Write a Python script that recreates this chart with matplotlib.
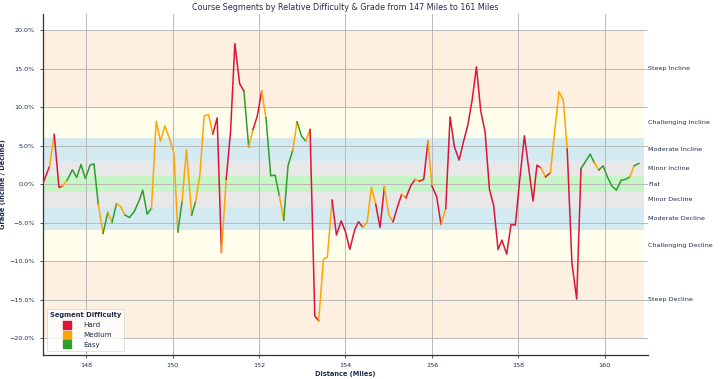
import matplotlib
matplotlib.use("Agg")
import matplotlib.pyplot as plt
from matplotlib.lines import Line2D
from matplotlib.ticker import PercentFormatter
import matplotlib.transforms as mtransforms

# course profile (mile, grade %), one difficulty per segment between points
miles = [147.00, 147.15, 147.26, 147.37, 147.45, 147.56, 147.68, 147.78, 147.88, 147.98,
         148.09, 148.18, 148.28, 148.39, 148.50, 148.60, 148.70, 148.79, 148.90, 149.00,
         149.11, 149.22, 149.31, 149.41, 149.51, 149.62, 149.72, 149.82, 149.93, 150.03,
         150.12, 150.22, 150.32, 150.44, 150.53, 150.63, 150.73, 150.83, 150.93, 151.03,
         151.13, 151.24, 151.34, 151.44, 151.55, 151.65, 151.76, 151.86, 151.96, 152.06,
         152.16, 152.27, 152.37, 152.47, 152.57, 152.67, 152.78, 152.88, 152.98, 153.08,
         153.18, 153.29, 153.38, 153.49, 153.58, 153.69, 153.79, 153.90, 154.00, 154.10,
         154.21, 154.30, 154.40, 154.50, 154.60, 154.70, 154.80, 154.90, 155.00, 155.10,
         155.21, 155.30, 155.40, 155.51, 155.61, 155.71, 155.81, 155.91, 156.00, 156.11,
         156.21, 156.32, 156.42, 156.52, 156.63, 156.73, 156.83, 156.93, 157.03, 157.13,
         157.23, 157.33, 157.43, 157.53, 157.62, 157.73, 157.83, 157.93, 158.03, 158.14,
         158.24, 158.34, 158.43, 158.52, 158.63, 158.74, 158.84, 158.94, 159.04, 159.13,
         159.24, 159.35, 159.45, 159.55, 159.66, 159.76, 159.86, 159.96, 160.06, 160.16,
         160.27, 160.38, 160.48, 160.58, 160.68, 160.79, 160.90]
grades = [0.1, 2.3, 6.45, -0.43, -0.26, 0.52, 1.86, 0.87, 2.55, 0.74,
          2.47, 2.64, -2.64, -6.4, -3.68, -4.94, -2.55, -2.86, -4.03, -4.33,
          -3.6, -2.2, -0.78, -3.9, -3.16, 8.18, 5.58, 7.57, 5.9, 3.98,
          -6.2, -2.2, 4.5, -4.03, -2.3, 1.17, 8.87, 9.05, 6.53, 8.61,
          -8.87, 0.65, 6.8, 18.27, 13.07, 12.08, 4.85, 7.1, 8.87, 12.08,
          8.61, 1.08, 1.17, -1.52, -4.68, 2.38, 4.42, 8.1, 6.28, 5.58,
          7.1, -17.14, -17.75, -9.74, -9.52, -2.08, -6.62, -4.76, -6.19, -8.48,
          -5.97, -4.89, -5.58, -4.98, -0.39, -2.64, -5.63, -0.39, -3.94, -4.89,
          -2.81, -1.34, -1.77, -0.22, 0.61, 0.39, 0.61, 5.58, -0.22, -1.65,
          -5.24, -3.16, 8.74, 4.85, 3.12, 5.5, 7.66, 10.9, 15.24, 9.48,
          6.8, -0.65, -2.81, -8.5, -7.27, -9.09, -5.24, -5.32, 0.48, 6.28,
          2.03, -2.2, 2.47, 2.12, 0.95, 1.47, 6.8, 11.99, 10.9, 4.55,
          -10.3, -14.94, 2.03, 2.9, 3.9, 2.77, 1.82, 2.38, 0.95, -0.22,
          -0.78, 0.52, 0.61, 0.95, 2.38, 2.69, 0.95]
difficulty = ["H", "M", "H", "H", "M", "E", "E", "E", "E", "E",
              "E", "E", "M", "E", "M", "E", "M", "M", "E", "E",
              "E", "E", "E", "E", "M", "M", "M", "M", "M", "M",
              "E", "M", "M", "E", "M", "M", "M", "M", "H", "H",
              "M", "H", "H", "H", "H", "E", "M", "H", "H", "M",
              "E", "E", "E", "M", "E", "E", "M", "E", "E", "M",
              "H", "H", "M", "M", "M", "H", "H", "H", "H", "H",
              "H", "H", "M", "M", "M", "H", "H", "M", "M", "H",
              "H", "M", "H", "H", "M", "H", "H", "M", "H", "H",
              "M", "H", "H", "H", "H", "H", "H", "H", "H", "H",
              "H", "H", "H", "H", "H", "H", "H", "H", "H", "H",
              "H", "H", "H", "M", "H", "M", "M", "M", "M", "H",
              "H", "H", "E", "E", "E", "M", "E", "E", "E", "E",
              "E", "E", "E", "M", "E"]

diff_names = {"H": "Hard", "M": "Medium", "E": "Easy"}
diff_colors = {"H": "#DC143C", "M": "#FFA500", "E": "#2CA02C"}

band_labels = ["Steep Incline", "Challenging Incline", "Moderate Incline", "Minor Incline", "Flat",
               "Minor Decline", "Moderate Decline", "Challenging Decline", "Steep Decline"]
band_low = [10, 6, 3, 1, -1, -3, -6, -10, -20]
band_high = [20, 10, 6, 3, 1, -1, -3, -6, -10]
band_colors = ["#FEF0E1", "#FFFEEC", "#D4EAF1", "#E8E8E8", "#C8F5C8",
               "#E8E8E8", "#D4EAF1", "#FFFEEC", "#FEF0E1"]

navy = "#1F2D4D"

fig = plt.figure(figsize=(7.2, 3.79), dpi=100)
ax = fig.add_axes([0.0597, 0.0633, 0.8403, 0.8997])

for lo, hi, c in zip(band_low, band_high, band_colors):
    ax.fill_between([miles[0], miles[-1]], lo, hi, color=c, linewidth=0, zorder=0)

# group consecutive segments with the same difficulty into one line
start = 0
for i in range(1, len(difficulty) + 1):
    if i == len(difficulty) or difficulty[i] != difficulty[start]:
        ax.plot(miles[start:i + 1], grades[start:i + 1], color=diff_colors[difficulty[start]],
                linewidth=1.1, zorder=3, solid_joinstyle="round")
        start = i

trans = mtransforms.blended_transform_factory(ax.transAxes, ax.transData)
for lo, hi, lab in zip(band_low, band_high, band_labels):
    ax.text(1.0, (lo + hi) / 2, lab, transform=trans, ha="left", va="center",
            fontsize=4.6, color=navy)

ax.set_xlim(147, 161)
ax.set_ylim(-22.2, 22.1)
ax.set_xticks(range(148, 161, 2))
ax.set_yticks(range(-20, 21, 5))
ax.yaxis.set_major_formatter(PercentFormatter(decimals=1))
ax.grid(True, color="#b8b8b8", linewidth=0.7)
ax.set_axisbelow(True)
ax.tick_params(labelsize=4.6, labelcolor=navy, length=2.5, width=0.6, color="#333333")
for s in ["top", "right"]:
    ax.spines[s].set_visible(False)
for s in ["left", "bottom"]:
    ax.spines[s].set_color("#333333")
    ax.spines[s].set_linewidth(0.9)

ax.set_title("Course Segments by Relative Difficulty & Grade from 147 Miles to 161 Miles",
             fontsize=5.8, color=navy, pad=3)
ax.set_xlabel("Distance (Miles)", fontsize=4.8, fontweight="bold", color=navy, labelpad=2)
ax.set_ylabel("Grade (Incline / Decline)", fontsize=4.8, fontweight="bold", color=navy, labelpad=2)

handles = [Line2D([], [], marker="s", linestyle="none", markersize=6.2,
                  markerfacecolor=diff_colors[k], markeredgecolor=diff_colors[k])
           for k in ["H", "M", "E"]]
leg = ax.legend(handles, [diff_names[k] for k in ["H", "M", "E"]], title="Segment Difficulty",
                loc="lower left", fontsize=5.1, title_fontsize=4.9, frameon=True,
                borderaxespad=0.6, labelspacing=0.55, handletextpad=1.3)
leg.get_title().set_fontweight("bold")
leg.get_title().set_color(navy)
for t in leg.get_texts():
    t.set_color(navy)
leg.get_frame().set_linewidth(0.5)

fig.savefig("out.png", dpi=100)
